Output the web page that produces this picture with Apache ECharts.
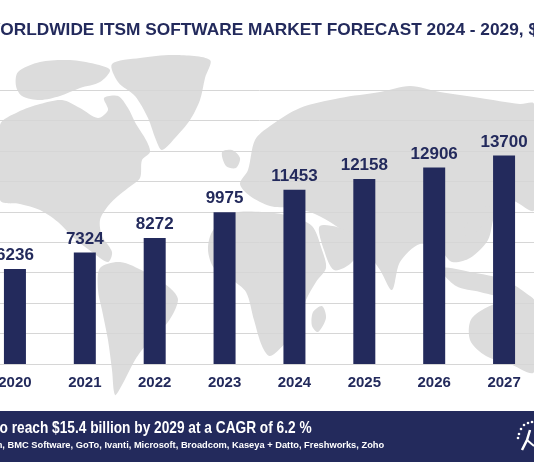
<!DOCTYPE html>
<html><head><meta charset="utf-8">
<script src="https://cdn.jsdelivr.net/npm/echarts@6/dist/echarts.min.js"></script>
<style>html,body{margin:0;padding:0;background:#fff;overflow:hidden;width:534px;height:462px}#c{width:559px;height:462px;position:absolute;left:-20px;top:0}</style>
</head><body><div id="c"></div>
<script>
var years = ['2020','2021','2022','2023','2024','2025','2026','2027'];
var marketValues = [6236, 7324, 8272, 9975, 11453, 12158, 12906, 13700];
var titleText = 'WORLDWIDE ITSM SOFTWARE MARKET FORECAST 2024 - 2029, $M';
var bannerText = 'to reach $15.4 billion by 2029 at a CAGR of 6.2 %';
var vendorText = 'Atlassian, BMC Software, GoTo, Ivanti, Microsoft, Broadcom, Kaseya + Datto, Freshworks, Zoho';

var NAVY = '#232a5c';
var LAND = '#dcdcdc';

// decorative background map (rough land shapes), page coordinates
var landShapes = [
  [[0,125],[18,112],[40,104],[62,100],[80,108],[98,118],[108,110],[104,98],[118,96],[128,108],[136,124],[146,140],[150,152],[142,160],[140,178],[128,188],[118,196],[108,206],[100,220],[102,236],[112,252],[108,262],[92,252],[74,238],[58,222],[40,210],[20,204],[0,200]],
  [[18,72],[40,62],[70,60],[95,64],[110,70],[100,82],[80,88],[60,96],[40,100],[22,96],[16,86]],
  [[112,64],[140,58],[175,55],[210,60],[205,78],[200,100],[190,120],[175,138],[162,150],[156,140],[148,118],[135,96],[118,82]],
  [[100,268],[120,262],[145,272],[170,288],[178,300],[168,322],[150,340],[135,360],[122,385],[115,395],[112,370],[108,340],[102,310],[98,290]],
  [[222,152],[232,150],[240,158],[236,168],[226,166]],
  [[248,170],[255,140],[270,126],[300,108],[340,98],[380,92],[410,86],[440,92],[480,98],[520,104],[534,104],[534,210],[510,200],[495,215],[488,240],[470,258],[452,262],[440,250],[420,244],[400,262],[392,290],[380,270],[362,246],[344,232],[330,222],[310,212],[290,208],[270,206],[250,196],[240,184]],
  [[212,232],[230,214],[262,212],[290,216],[312,226],[322,250],[326,268],[316,282],[306,300],[298,322],[286,342],[270,356],[262,346],[254,320],[246,292],[232,280],[214,268],[208,250]],
  [[320,226],[350,232],[360,248],[350,264],[334,270],[324,250]],
  [[313,312],[322,306],[326,318],[318,332],[312,326]],
  [[462,232],[476,214],[488,206],[492,214],[482,226],[470,236]],
  [[440,268],[470,272],[505,280],[530,296],[534,300],[534,310],[510,300],[480,292],[456,286]],
  [[472,318],[500,302],[534,300],[534,372],[510,364],[486,356],[470,340]]
];
var bgChildren = [];
landShapes.forEach(function(pts){
  bgChildren.push({type:'polygon', silent:true, shape:{points:pts, smooth:0.3}, style:{fill:LAND}});
});
var fgChildren = [];
fgChildren.push({type:'text', style:{x:-16, y:30, text:titleText, fill:NAVY, font:'bold 17.3px "Liberation Sans", Arial, sans-serif', textVerticalAlign:'middle', textAlign:'left'}});
fgChildren.push({type:'rect', shape:{x:-20, y:411, width:580, height:51}, style:{fill:NAVY}});
fgChildren.push({type:'text', x:-5, y:428, scaleX:0.83, style:{x:0, y:0, text:bannerText, fill:'#ffffff', font:'bold 16.5px "Liberation Sans", Arial, sans-serif', textVerticalAlign:'middle'}});
fgChildren.push({type:'text', style:{x:-39, y:445, text:vendorText, fill:'#ffffff', font:'bold 9.3px "Liberation Sans", Arial, sans-serif', textVerticalAlign:'middle'}});
[[521,429],[524,425],[528,423],[532,422],[519,434],[518,438]].forEach(function(p){
  fgChildren.push({type:'circle', shape:{cx:p[0], cy:p[1], r:1.3}, style:{fill:'#fff'}});
});
fgChildren.push({type:'polyline', shape:{points:[[530,430],[527,440],[522,450]]}, style:{stroke:'#fff', lineWidth:2.5}});
fgChildren.push({type:'polyline', shape:{points:[[527,440],[534,446]]}, style:{stroke:'#fff', lineWidth:2}});

var chart = echarts.init(document.getElementById('c'));
chart.setOption({
  animation:false,
  backgroundColor:'#ffffff',
  graphic: [
    {type:'group', x:20, y:0, z:-10, silent:true, children:bgChildren},
    {type:'group', x:20, y:0, z:10, silent:true, children:fgChildren}
  ],
  grid:{left:0, right:0, top:90, bottom:98, containLabel:false},
  xAxis:{type:'category', data:years,
    axisLine:{show:true, lineStyle:{color:'#d6d6d6', width:1}},
    axisTick:{show:false},
    axisLabel:{color:NAVY, fontWeight:'bold', fontSize:15, margin:11, fontFamily:'"Liberation Sans", Arial, sans-serif'}},
  yAxis:{type:'value', min:0, max:18000, interval:2000,
    axisLabel:{show:false}, axisLine:{show:false}, axisTick:{show:false},
    splitLine:{lineStyle:{color:'#d6d6d6', width:1}}},
  series:[{type:'bar', data:marketValues, barWidth:22,
    itemStyle:{color:NAVY},
    label:{show:true, position:'top', distance:5, color:NAVY, fontWeight:'bold', fontSize:17, fontFamily:'"Liberation Sans", Arial, sans-serif'}}]
});
</script></body></html>
